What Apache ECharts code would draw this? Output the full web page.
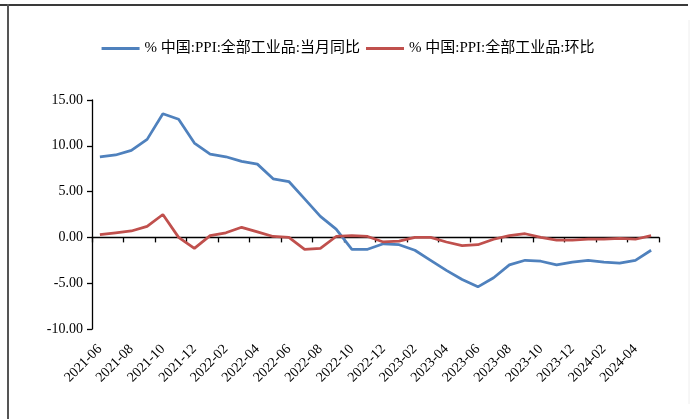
<!DOCTYPE html>
<html>
<head>
<meta charset="utf-8">
<script src="https://cdn.jsdelivr.net/npm/echarts@6/dist/echarts.min.js"></script>
<style>
html,body{margin:0;padding:0;background:#fff;}
#chart{width:696px;height:419px;}
</style>
</head>
<body>
<div id="chart"></div>
<script>
const months = ['2021-06','2021-07','2021-08','2021-09','2021-10','2021-11','2021-12',
  '2022-01','2022-02','2022-03','2022-04','2022-05','2022-06','2022-07','2022-08','2022-09','2022-10','2022-11','2022-12',
  '2023-01','2023-02','2023-03','2023-04','2023-05','2023-06','2023-07','2023-08','2023-09','2023-10','2023-11','2023-12',
  '2024-01','2024-02','2024-03','2024-04','2024-05'];
const ppiYoY = [8.8,9.0,9.5,10.7,13.5,12.9,10.3,
  9.1,8.8,8.3,8.0,6.4,6.1,4.2,2.3,0.9,-1.3,-1.3,-0.7,
  -0.8,-1.4,-2.5,-3.6,-4.6,-5.4,-4.4,-3.0,-2.5,-2.6,-3.0,-2.7,
  -2.5,-2.7,-2.8,-2.5,-1.4];
const ppiMoM = [0.3,0.5,0.7,1.2,2.5,0.0,-1.2,
  0.2,0.5,1.1,0.6,0.1,0.0,-1.3,-1.2,0.1,0.2,0.1,-0.5,
  -0.4,0.0,0.0,-0.5,-0.9,-0.8,-0.2,0.2,0.4,0.0,-0.3,-0.3,
  -0.2,-0.2,-0.1,-0.2,0.2];
const seriesNames = ['% 中国:PPI:全部工业品:当月同比','% 中国:PPI:全部工业品:环比'];
const yMin = -10, yMax = 15, yStep = 5;

const serif = "'Liberation Serif','Times New Roman','Noto Sans CJK SC',serif";
const chart = echarts.init(document.getElementById('chart'), null, {renderer:'canvas'});
const gridBox = {left:92, top:100, width:567, height:229};
chart.setOption({
  animation:false,
  backgroundColor:'#ffffff',
  legend:{
    top:36, left:'center',
    itemWidth:38, itemHeight:3, itemGap:6,
    icon:'rect',
    textStyle:{fontFamily:serif, fontSize:15, color:'#000'},
    data:seriesNames
  },
  grid:gridBox,
  xAxis:[{
    type:'category', data:months, boundaryGap:true,
    axisLine:{onZero:true, lineStyle:{color:'#000', width:1.3}},
    axisTick:{show:true, interval:1, length:5, lineStyle:{color:'#000', width:1.3}},
    axisLabel:{show:false},
    splitLine:{show:false}
  },{
    type:'category', data:months, boundaryGap:true, position:'bottom',
    axisLine:{show:false, onZero:false}, axisTick:{show:false},
    axisLabel:{show:true, interval:1, rotate:45, margin:18,
      fontFamily:serif, fontSize:14, color:'#000'},
    splitLine:{show:false}
  }],
  yAxis:{
    type:'value', min:yMin, max:yMax, interval:yStep,
    axisLine:{show:true, lineStyle:{color:'#000', width:1.3}},
    axisTick:{show:true, length:5, lineStyle:{color:'#000', width:1.3}},
    axisLabel:{formatter:v=>v.toFixed(2), fontFamily:serif, fontSize:14, color:'#000', margin:9},
    splitLine:{show:false}
  },
  series:[{
    name:seriesNames[0], type:'line', data:ppiYoY, xAxisIndex:0,
    symbol:'none', lineStyle:{color:'#4F81BD', width:2.75}, itemStyle:{color:'#4F81BD'}
  },{
    name:seriesNames[1], type:'line', data:ppiMoM, xAxisIndex:0,
    symbol:'none', lineStyle:{color:'#C0504D', width:2.75}, itemStyle:{color:'#C0504D'}
  }],
  graphic:[
    {type:'line', shape:{x1:0,y1:5,x2:688,y2:5}, style:{stroke:'#3a3a3a', lineWidth:2}},
    {type:'line', shape:{x1:8,y1:4,x2:8,y2:419}, style:{stroke:'#555', lineWidth:2}},
    {type:'line', shape:{x1:689,y1:20,x2:689,y2:404}, style:{stroke:'#eeeeee', lineWidth:1}}
  ]
});
</script>
</body>
</html>
